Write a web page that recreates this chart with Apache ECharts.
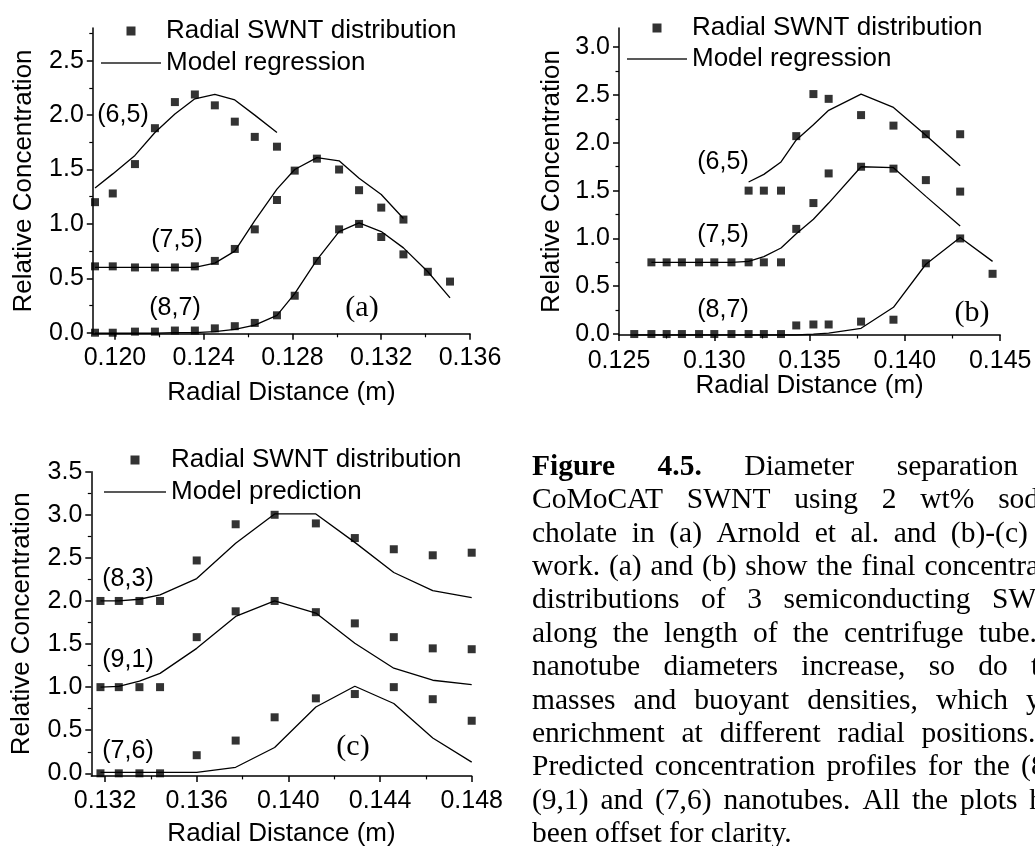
<!DOCTYPE html>
<html>
<head>
<meta charset="utf-8">
<script src="https://cdn.jsdelivr.net/npm/echarts@6/dist/echarts.min.js"></script>
<style>
html, body { margin: 0; padding: 0; background: #fff; }
#chart { width: 1035px; height: 846px; }
</style>
</head>
<body>
<div id="chart"></div>
<script>
// ---------------- Panel (a): Arnold et al. ----------------
const xA = [0.1191, 0.1199, 0.1209, 0.1218, 0.1227, 0.1236, 0.1245, 0.1254, 0.1263,
            0.1273, 0.1281, 0.1291, 0.1301, 0.1310, 0.1320, 0.1330, 0.1341, 0.1351];
const a65    = [1.20, 1.28, 1.55, 1.88, 2.12, 2.19, 2.09, 1.94, 1.80, 1.71];
const a65fit = [1.33, 1.46, 1.63, 1.84, 2.01, 2.15, 2.19, 2.14, 2.00, 1.84];
const a75    = [0.61, 0.61, 0.60, 0.60, 0.60, 0.61, 0.66, 0.77, 0.95, 1.22, 1.49, 1.60, 1.50, 1.31, 1.15, 1.04];
const a75fit = [0.60, 0.60, 0.60, 0.60, 0.60, 0.60, 0.64, 0.75, 1.03, 1.32, 1.50, 1.61, 1.58, 1.42, 1.27, 1.05];
const a87    = [0.00, 0.00, 0.01, 0.01, 0.02, 0.02, 0.04, 0.06, 0.09, 0.16, 0.34, 0.66, 0.95, 1.00, 0.88, 0.72, 0.56, 0.47];
const a87fit = [-0.005, -0.005, -0.005, -0.005, 0.00, 0.00, 0.01, 0.03, 0.07, 0.16, 0.36, 0.67, 0.93, 1.01, 0.93, 0.78, 0.56, 0.32];
const xTicksA = [0.120, 0.124, 0.128, 0.132, 0.136];
const xMinorA = [0.122, 0.126, 0.130, 0.134];
const yTicksA = [0, 0.5, 1.0, 1.5, 2.0, 2.5];
const yMinorA = [0.25, 0.75, 1.25, 1.75, 2.25, 2.75];

// ---------------- Panel (b): this work ----------------
const xB = [0.1258, 0.1267, 0.1275, 0.1283, 0.1292, 0.1300, 0.1309, 0.1318, 0.1326,
            0.1335, 0.1343, 0.1352, 0.1360, 0.1377, 0.1394, 0.1411, 0.1429, 0.1446];
const b65    = [1.50, 1.50, 1.50, 2.07, 2.51, 2.46, 2.29, 2.18, 2.09, 2.09];          // from xB[7]
const b65fit = [1.59, 1.67, 1.80, 2.03, 2.19, 2.34, 2.51, 2.37, 2.08, 1.76];
const b75    = [0.75, 0.75, 0.75, 0.75, 0.75, 0.75, 0.75, 0.75, 0.75, 1.10, 1.37, 1.68, 1.75, 1.73, 1.61, 1.49]; // from xB[1]
const b75fit = [0.75, 0.75, 0.75, 0.75, 0.75, 0.75, 0.76, 0.81, 0.90, 1.05, 1.20, 1.37, 1.75, 1.74, 1.44, 1.13];
const b87    = [0, 0, 0, 0, 0, 0, 0, 0, 0, 0, 0.09, 0.10, 0.10, 0.13, 0.15, 0.74, 1.00, 0.63];
const b87fit = [-0.01, -0.01, -0.01, -0.01, -0.01, -0.01, -0.01, -0.01, -0.01, -0.01, -0.01, 0.00, 0.01, 0.06, 0.28, 0.73, 1.01, 0.76];
const xTicksB = [0.125, 0.130, 0.135, 0.140, 0.145];
const xMinorB = [0.1275, 0.1325, 0.1375, 0.1425];
const yTicksB = [0, 0.5, 1.0, 1.5, 2.0, 2.5, 3.0];
const yMinorB = [0.25, 0.75, 1.25, 1.75, 2.25, 2.75];

// ---------------- Panel (c): model prediction ----------------
const xC = [0.1318, 0.1326, 0.1335, 0.1344, 0.1360, 0.1377, 0.1394, 0.1412, 0.1429, 0.1446, 0.1463, 0.1480];
const c83    = [2.00, 2.00, 2.00, 2.00, 2.47, 2.89, 3.00, 2.90, 2.73, 2.60, 2.53, 2.56];
const c83fit = [2.00, 2.00, 2.02, 2.07, 2.26, 2.67, 3.01, 3.01, 2.68, 2.33, 2.12, 2.04];
const c91    = [1.00, 1.00, 1.00, 1.00, 1.58, 1.88, 2.00, 1.87, 1.74, 1.58, 1.45, 1.44];
const c91fit = [1.00, 1.01, 1.07, 1.16, 1.45, 1.82, 2.00, 1.86, 1.51, 1.22, 1.08, 1.03];
const c76    = [0.00, 0.00, 0.00, 0.00, 0.21, 0.38, 0.65, 0.87, 0.92, 1.00, 0.86, 0.61];
const c76fit = [0.01, 0.01, 0.01, 0.01, 0.01, 0.07, 0.30, 0.77, 1.01, 0.81, 0.41, 0.13];
const xTicksC = [0.132, 0.136, 0.140, 0.144, 0.148];
const xMinorC = [0.134, 0.138, 0.142, 0.146];
const yTicksC = [0, 0.5, 1.0, 1.5, 2.0, 2.5, 3.0, 3.5];
const yMinorC = [0.25, 0.75, 1.25, 1.75, 2.25, 2.75, 3.25];

// ---------------- Text ----------------
const dataName = 'Radial SWNT distribution';
const fitNameAB = 'Model regression';
const fitNameC = 'Model prediction';
const xTitle = 'Radial Distance (m)';
const yTitle = 'Relative Concentration';
const captionLines = [
  'Figure 4.5. Diameter separation of',
  'CoMoCAT SWNT using 2 wt% sodium',
  'cholate in (a) Arnold et al. and (b)-(c) this',
  'work. (a) and (b) show the final concentration',
  'distributions of 3 semiconducting SWNTs',
  'along the length of the centrifuge tube. As',
  'nanotube diameters increase, so do their',
  'masses and buoyant densities, which yield',
  'enrichment at different radial positions. (c)',
  'Predicted concentration profiles for the (8,3),',
  '(9,1) and (7,6) nanotubes. All the plots have',
  'been offset for clarity.'
];
const captionBoldWords = 2;

// ---------------- Styling helpers ----------------
const SANS = "'Liberation Sans', Arial, Helvetica, sans-serif";
const SERIF = "'Liberation Serif', 'Times New Roman', serif";
const BLACK = '#000';
// legend glyphs: a filled square and a thin horizontal bar (aspect kept)
const ICON_SQUARE = 'path://M0,0 H10 V10 H0 Z';
const ICON_BAR = 'path://M0,0 H60 V1.5 H0 Z';

function pairs(xs, ys, start) {
  return ys.map((y, i) => [xs[i + (start || 0)], y]);
}

function axisPair(dim, gridIndex, min, max, majors, minors, digits, labelMargin, nameGap) {
  const pos = dim === 'x' ? 'bottom' : 'left';
  const major = {
    type: 'value', gridIndex, min, max, position: pos, offset: 0,
    axisLine: { show: true, onZero: false, lineStyle: { color: BLACK, width: 1.5 } },
    axisTick: { show: true, inside: false, length: 6, customValues: majors, lineStyle: { color: BLACK, width: 1.5 } },
    axisLabel: {
      show: true, customValues: majors, margin: labelMargin, color: BLACK, fontSize: 25, fontFamily: SANS,
      formatter: v => Number(v).toFixed(digits)
    },
    splitLine: { show: false }, minorTick: { show: false },
    name: dim === 'x' ? xTitle : yTitle, nameLocation: 'middle', nameGap,
    nameMoveOverlap: false,
    nameTextStyle: { color: BLACK, fontSize: 26, fontFamily: SANS }
  };
  const minor = {
    type: 'value', gridIndex, min, max, position: pos, offset: 0,
    axisLine: { show: false, onZero: false },
    axisTick: { show: true, inside: false, length: 3.5, customValues: minors, lineStyle: { color: BLACK, width: 1.2 } },
    axisLabel: { show: false }, splitLine: { show: false }
  };
  return [major, minor];
}

function dots(name, data, ax) {
  return {
    type: 'scatter', name, data, xAxisIndex: ax, yAxisIndex: ax,
    symbol: 'rect', symbolSize: 8, itemStyle: { color: BLACK }, z: 4, silent: true
  };
}
function curve(name, data, ax) {
  return {
    type: 'line', name, data, xAxisIndex: ax, yAxisIndex: ax,
    symbol: 'none', showSymbol: false, lineStyle: { color: BLACK, width: 1.3 }, itemStyle: { color: BLACK },
    z: 3, silent: true
  };
}
function legendAt(left, top, gap, fitName, itemWidth) {
  return {
    left, top, orient: 'vertical', itemGap: gap, itemWidth, itemHeight: 9,
    selectedMode: false, padding: 0, symbolKeepAspect: true,
    itemStyle: { color: BLACK, borderWidth: 0 },
    textStyle: { color: BLACK, fontSize: 26, fontFamily: SANS },
    data: [
      { name: dataName, icon: ICON_SQUARE, itemStyle: { color: BLACK } },
      { name: fitName, icon: ICON_BAR, itemStyle: { color: '#222' } }
    ]
  };
}
function label(text, x, y, serif) {
  return {
    type: 'text', x, y, silent: true,
    style: {
      text, fill: BLACK,
      font: serif ? ('30px ' + SERIF) : ('25px ' + SANS),
      align: 'center', textAlign: 'center', verticalAlign: 'middle', textVerticalAlign: 'middle'
    }
  };
}

// Justified caption, drawn word by word
const capSize = 29.5, capLeft = 532, capTop = 467, capStep = 33.4, capWidth = 553;
const measureCtx = document.createElement('canvas').getContext('2d');
function capFont(bold) { return (bold ? 'bold ' : '') + capSize + 'px ' + SERIF; }
function wordWidth(w, bold) { measureCtx.font = capFont(bold); return measureCtx.measureText(w).width; }
const captionGraphics = [];
let boldLeft = captionBoldWords;
captionLines.forEach((line, li) => {
  const words = line.split(' ');
  const flags = words.map(() => { if (boldLeft > 0) { boldLeft--; return true; } return false; });
  const widths = words.map((w, i) => wordWidth(w, flags[i]));
  const total = widths.reduce((s, v) => s + v, 0);
  const last = li === captionLines.length - 1;
  const gap = last ? wordWidth(' ', false) : (capWidth - total) / (words.length - 1);
  let x = capLeft;
  words.forEach((w, i) => {
    captionGraphics.push({
      type: 'text', x, y: capTop + li * capStep, silent: true,
      style: { text: w, fill: BLACK, font: capFont(flags[i]), verticalAlign: 'middle', textVerticalAlign: 'middle' }
    });
    x += widths[i] + gap;
  });
});

// ---------------- Chart ----------------
const axA = { x: axisPair('x', 0, 0.119, 0.136, xTicksA, xMinorA, 3, 12, 46), y: axisPair('y', 0, -0.01, 2.8, yTicksA, yMinorA, 1, 9, 56) };
const axB = { x: axisPair('x', 1, 0.125, 0.145, xTicksB, xMinorB, 3, 14, 38), y: axisPair('y', 1, -0.01, 3.2, yTicksB, yMinorB, 1, 9, 54) };
const axC = { x: axisPair('x', 2, 0.1314, 0.148, xTicksC, xMinorC, 3, 13, 45), y: axisPair('y', 2, -0.03, 3.5, yTicksC, yMinorC, 1, 9, 56) };

const option = {
  animation: false,
  backgroundColor: '#fff',
  grid: [
    { left: 92.8, top: 28.1, width: 377.2, height: 305.7, outerBoundsMode: 'none', containLabel: false },
    { left: 619, top: 28.1, width: 381.2, height: 306.9, outerBoundsMode: 'none', containLabel: false },
    { left: 91.3, top: 471.7, width: 380.4, height: 304.2, outerBoundsMode: 'none', containLabel: false }
  ],
  xAxis: [...axA.x, ...axB.x, ...axC.x],
  yAxis: [...axA.y, ...axB.y, ...axC.y],
  legend: [
    legendAt(101, 18, 6, fitNameAB, 60),
    legendAt(627, 15, 5, fitNameAB, 60),
    legendAt(104, 447, 6, fitNameC, 62)
  ],
  series: [
    curve(fitNameAB, pairs(xA, a65fit), 0),
    curve(fitNameAB, pairs(xA, a75fit), 0),
    curve(fitNameAB, pairs(xA, a87fit), 0),
    dots(dataName, pairs(xA, a65), 0),
    dots(dataName, pairs(xA, a75), 0),
    dots(dataName, pairs(xA, a87), 0),

    curve(fitNameAB, pairs(xB, b65fit, 7), 2),
    curve(fitNameAB, pairs(xB, b75fit, 1), 2),
    curve(fitNameAB, pairs(xB, b87fit), 2),
    dots(dataName, pairs(xB, b65, 7), 2),
    dots(dataName, pairs(xB, b75, 1), 2),
    dots(dataName, pairs(xB, b87), 2),

    curve(fitNameC, pairs(xC, c83fit), 4),
    curve(fitNameC, pairs(xC, c91fit), 4),
    curve(fitNameC, pairs(xC, c76fit), 4),
    dots(dataName, pairs(xC, c83), 4),
    dots(dataName, pairs(xC, c91), 4),
    dots(dataName, pairs(xC, c76), 4)
  ],
  graphic: [
    label('(6,5)', 123, 115), label('(7,5)', 177, 240), label('(8,7)', 175, 308), label('(a)', 362, 308, true),
    label('(6,5)', 723, 162), label('(7,5)', 723, 235), label('(8,7)', 723, 310), label('(b)', 972, 313, true),
    label('(8,3)', 128, 579), label('(9,1)', 128, 660), label('(7,6)', 128, 751), label('(c)', 353, 747, true),
    ...captionGraphics
  ]
};

const chart = echarts.init(document.getElementById('chart'), null, { renderer: 'canvas' });
chart.setOption(option);
</script>
</body>
</html>
